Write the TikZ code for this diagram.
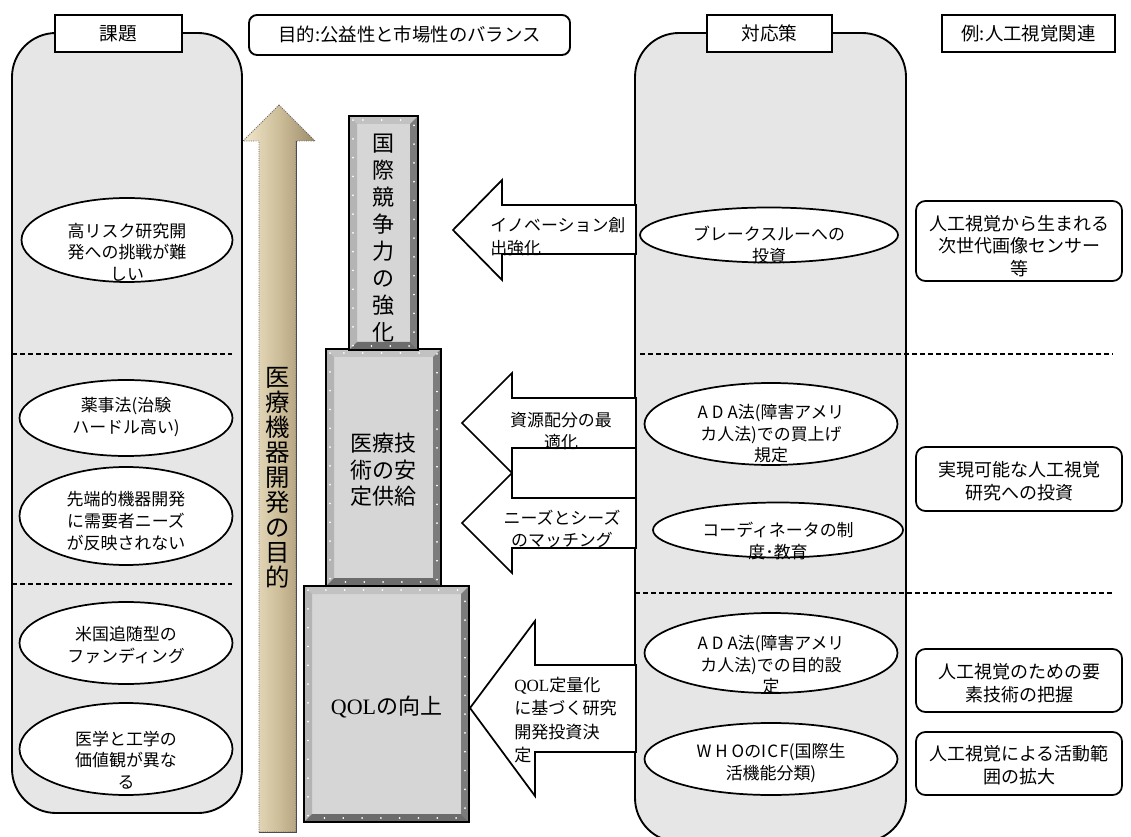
\documentclass[tikz,border=0pt]{standalone}
\usepackage{fontspec}
\setmainfont{Noto Sans CJK JP}
\newfontfamily\ser{Liberation Serif}
\usetikzlibrary{calc,shapes.geometric}
\definecolor{panelgray}{HTML}{E6E6E6}
\definecolor{bevface}{HTML}{D6D6D6}
\definecolor{bevtop}{HTML}{C2C2C2}
\definecolor{bevleft}{HTML}{B4B4B4}
\definecolor{bevright}{HTML}{7C7C7C}
\definecolor{bevbot}{HTML}{6C6C6C}
\definecolor{tanL}{HTML}{F2E8CE}
\definecolor{tanM}{HTML}{CDBD98}
\definecolor{tanR}{HTML}{9C8C6C}
\newcommand\fs[2]{\fontsize{#1}{#2}\selectfont}
\def\u{0.75pt}
\tikzset{
  panelbox/.style={draw, line width=1.4pt, fill=panelgray, rounded corners=33pt, inner sep=0},
  headbox/.style={draw, line width=1.4pt, fill=white, inner sep=0, minimum height=37*\u, font=\fs{14pt}{17pt}},
  ellbox/.style={ellipse, draw, line width=1.3pt, fill=white, inner sep=0},
  etext/.style={align=center, inner sep=0, font=\fs{12.7pt}{16.2pt}},
  exbox/.style={draw, line width=1.3pt, fill=white, rounded corners=7pt, inner sep=0, minimum width=206*\u},
  extext/.style={align=center, inner sep=0, font=\fs{13.5pt}{17pt}},
  warrow/.style={draw, line width=1.3pt, fill=white, line join=miter},
  atext/.style={inner sep=0, font=\fs{12.7pt}{17pt}},
  sepline/.style={line width=1.1pt, dash pattern=on 3.6pt off 2.4pt},
  bevel/.style={draw=black, line width=1pt, fill=bevface, inner sep=0,
    path picture={
      \coordinate (pA) at (path picture bounding box.north west);
      \coordinate (pB) at (path picture bounding box.north east);
      \coordinate (pC) at (path picture bounding box.south east);
      \coordinate (pD) at (path picture bounding box.south west);
      \coordinate (qA) at ($(pA)+(8,8)$);
      \coordinate (qB) at ($(pB)+(-8,8)$);
      \coordinate (qC) at ($(pC)+(-8,-8)$);
      \coordinate (qD) at ($(pD)+(8,-8)$);
      \fill[bevtop] (pA) -- (pB) -- (qB) -- (qA) -- cycle;
      \fill[bevleft] (pA) -- (qA) -- (qD) -- (pD) -- cycle;
      \fill[bevright] (pB) -- (pC) -- (qC) -- (qB) -- cycle;
      \fill[bevbot] (pD) -- (qD) -- (qC) -- (pC) -- cycle;
      \draw[white, line width=1.3pt, line cap=round, dash pattern=on 0.1pt off 14pt]
        ($(pA)+(4,4)$) rectangle ($(pC)+(-4,-4)$);
    }},
  bevtext/.style={align=center, inner sep=0, font=\fs{16.5pt}{19.5pt}}
}
\begin{document}
\begin{tikzpicture}[x=0.75pt,y=-0.75pt]
\useasboundingbox (0,0) rectangle (1131,837);
\fill[white] (0,0) rectangle (1131,837);

% ---------- left panel ----------
\node[panelbox, minimum width=230*\u, minimum height=780*\u] (lp) at (127,423) {};
\node[headbox, minimum width=127*\u] (h1) at (118.5,33.5) {課題};
\draw[sepline] (12,354) -- (232,354);
\draw[sepline] (12,584) -- (232,584);

\node[ellbox, minimum width=211*\u, minimum height=84*\u] (l1) at (127,240) {};
\node[etext] (l1t) at (127,252) {高リスク研究開\\発への挑戦が難\\しい};
\node[ellbox, minimum width=213*\u, minimum height=76*\u] (l2) at (126,418) {};
\node[etext] (l2t) at (126,417) {薬事法(治験\\ハードル高い)};
\node[ellbox, minimum width=213*\u, minimum height=98*\u] (l3) at (126,516) {};
\node[etext] (l3t) at (126,521) {先端的機器開発\\に需要者ニーズ\\が反映されない};
\node[ellbox, minimum width=213*\u, minimum height=82*\u] (l4) at (126,643) {};
\node[etext] (l4t) at (126,645) {米国追随型の\\ファンディング};
\node[ellbox, minimum width=213*\u, minimum height=92*\u] (l5) at (126,749) {};
\node[etext] (l5t) at (126,760) {医学と工学の\\価値観が異な\\る};

% ---------- top middle header ----------
\node[draw, line width=1.4pt, fill=white, rounded corners=6pt, inner sep=0,
      minimum width=321*\u, minimum height=40*\u, font=\fs{13.8pt}{16pt}] (goalhead) at (409.5,35)
      {目的:公益性と市場性のバランス};

% ---------- big arrow ----------
\shadedraw[left color=tanL, right color=tanR, middle color=tanM, draw=black!60,
  line width=0.7pt, densely dotted]
  (279,105) -- (315,141) -- (296,141) -- (296,832) -- (259,832) -- (259,141) -- (243,141) -- cycle;
\draw[black!70, line width=0.7pt] (296,141) -- (296,832) -- (259,832);
\node[align=center, inner sep=0, font=\fs{18.3pt}{18.75pt}] (goaltext) at (278,478)
  {医\\療\\機\\器\\開\\発\\の\\目\\的};

% ---------- bevel boxes ----------
\node[bevel, minimum width=165*\u, minimum height=236*\u] (b3) at (386.5,704) {};
\node[bevtext] (b3t) at (386.5,707) {{\ser QOL}の向上};
\node[bevel, minimum width=115*\u, minimum height=237*\u] (b2) at (383.5,467.5) {};
\node[bevtext, font=\fs{16.5pt}{19.8pt}] (b2t) at (383.5,470) {医療技\\術の安\\定供給};
\node[bevel, minimum width=69*\u, minimum height=234*\u] (b1) at (383.5,233) {};
\node[bevtext, font=\fs{16.5pt}{20.25pt}] (b1t) at (383.5,238) {国\\際\\競\\争\\力\\の\\強\\化};

% ---------- right panel ----------
\node[panelbox, minimum width=271*\u, minimum height=809*\u] (rp) at (770.5,437.5) {};
\node[headbox, minimum width=125*\u] (h2) at (769.5,33.5) {対応策};
\node[headbox, minimum width=173*\u, font=\fs{13.8pt}{16pt}] (h3) at (1028.5,33.5) {例:人工視覚関連};
\draw[sepline] (640,354) -- (1113,354);
\draw[sepline] (635,593) -- (1113,593);

% ---------- white arrows ----------
\draw[warrow] (453,230) -- (502,180) -- (502,205) -- (636,205) -- (636,254) -- (502,254) -- (502,280) -- cycle;
\node[atext, anchor=west, align=left] (a1t) at (490,237) {イノベーション創\\出強化};
\draw[warrow] (462,423) -- (512,373) -- (512,398) -- (636,398) -- (636,448) -- (512,448) -- (512,473) -- cycle;
\draw[warrow] (512,448) rectangle (636,498);
\draw[warrow] (462,523) -- (512,473) -- (512,498) -- (636,498) -- (636,548) -- (512,548) -- (512,573) -- cycle;
\node[atext, align=center] (a2t) at (561,431) {資源配分の最\\適化};
\node[atext, align=center] (a3t) at (562,529) {ニーズとシーズ\\のマッチング};
\draw[warrow] (470,708) -- (535,621) -- (535,665) -- (636,665) -- (636,752) -- (535,752) -- (535,796) -- cycle;
\node[atext, anchor=west, align=left, font=\fs{12.8pt}{17.6pt}] (a4t) at (514,720)
  {{\ser QOL}定量化\\に基づく研究\\開発投資決\\定};

% ---------- right ellipses ----------
\node[ellbox, minimum width=258*\u, minimum height=55*\u] (r1) at (769,235) {};
\node[etext] (r1t) at (769,245) {ブレークスルーへの\\投資};
\node[ellbox, minimum width=253*\u, minimum height=82*\u] (r2) at (771,424) {};
\node[etext] (r2t) at (771,434) {A\hspace{3pt}D\hspace{3pt}A法(障害アメリ\\カ人法)での買上げ\\規定};
\node[ellbox, minimum width=250*\u, minimum height=55*\u] (r3) at (778,530) {};
\node[etext] (r3t) at (778,541) {コーディネータの制\\度･教育};
\node[ellbox, minimum width=253*\u, minimum height=80*\u] (r4) at (771,653) {};
\node[etext] (r4t) at (771,665) {A\hspace{3pt}D\hspace{3pt}A法(障害アメリ\\カ人法)での目的設\\定};
\node[ellbox, minimum width=253*\u, minimum height=72*\u] (r5) at (771,759) {};
\node[etext] (r5t) at (771,763) {W\hspace{3pt}H\hspace{3pt}OのI\hspace{1pt}C\hspace{1pt}F(国際生\\活機能分類)};

% ---------- example boxes ----------
\node[exbox, minimum height=80*\u] (e1) at (1019,241) {};
\node[extext] (e1t) at (1019,246) {人工視覚から生まれる\\次世代画像センサー\\等};
\node[exbox, minimum height=64*\u] (e2) at (1019,479) {};
\node[extext] (e2t) at (1019,481) {実現可能な人工視覚\\研究への投資};
\node[exbox, minimum height=63*\u] (e3) at (1019,680.5) {};
\node[extext] (e3t) at (1019,683) {人工視覚のための要\\素技術の把握};
\node[exbox, minimum height=63*\u] (e4) at (1019,763.5) {};
\node[extext] (e4t) at (1019,765) {人工視覚による活動範\\囲の拡大};
\end{tikzpicture}
\end{document}
